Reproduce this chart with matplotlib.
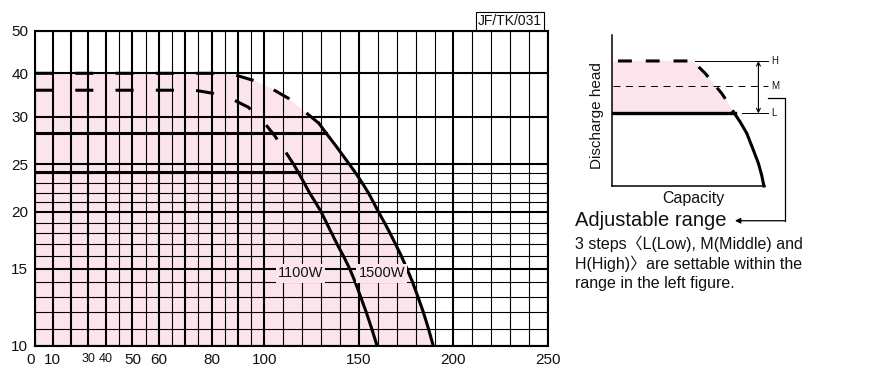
import numpy as np
import matplotlib
matplotlib.use('Agg')
import matplotlib.pyplot as plt
from matplotlib.transforms import ScaledTranslation

plt.rcParams['font.family'] = ['Liberation Sans', 'Noto Sans CJK JP']
plt.rcParams['lines.scale_dashes'] = False

PINK = '#fce4ec'
INK = '#111111'

# --- grid / ticks of the main chart ---
x_major = [0, 10, 20, 30, 40, 50, 60, 70, 80, 90, 100, 150, 200, 250]
x_labels = ['0', '10', '', '30', '40', '50', '60', '', '80', '', '100', '150', '200', '250']
x_minor = [45, 55, 65, 75, 85, 95, 110, 120, 130, 140, 160, 170, 180, 190,
           210, 220, 230, 240]
y_major = [10, 15, 20, 25, 30, 40, 50]
y_minor = [11, 12, 13, 14, 16, 17, 18, 19, 21, 22, 23, 24]

# --- pump curves (capacity, head) ---
# 1500W: dashed upper part (H setting) and solid part
h1500_q = [0, 81.8, 89.1, 96.2, 102.5, 112.9, 120.5, 128.9]
h1500_h = [40, 40, 39.6, 38.3, 36.8, 34.2, 31.5, 29.3]
c1500_q = [128.9, 132.6, 137.6, 145.0, 148.4, 151.7, 155.0, 157.7, 160.3, 163.5,
           166.5, 169.4, 172.5, 175.5, 178.4, 181.2, 184.1, 186.8, 189.3]
c1500_h = [29.3, 28.3, 27, 25, 24, 23, 22, 21, 20, 19, 18, 17, 16, 15, 14, 13, 12, 11, 10]
# 1100W
m1100_q = [0, 73.6, 80.4, 87.6, 93.9, 99.6, 105.5, 111.9]
m1100_h = [36.1, 36.1, 35.4, 34.1, 32.2, 29.5, 28.0, 26.1]
c1100_q = [111.9, 115.5, 118.2, 121.0, 123.9, 127.0, 130.0, 132.8, 135.6, 138.5,
           141.9, 145.2, 148.1, 150.9, 153.9, 156.8, 159.6]
c1100_h = [26.1, 25, 24, 23, 22, 21, 20, 19, 18, 17, 16, 15, 14, 13, 12, 11, 10]
# L settings (head, end capacity)
low1500 = (28.3, 132.6)
low1100 = (24.1, 118.2)

# --- schematic on the right (relative capacity / head) ---
sk_H, sk_M, sk_L = 0.828, 0.662, 0.481
sk_dash_q = [0.041, 0.532, 0.543, 0.609, 0.663, 0.717, 0.761, 0.793]
sk_dash_h = [sk_H, sk_H, 0.813, 0.747, 0.680, 0.614, 0.548, 0.492]
sk_solid_q = [0.793, 0.837, 0.881, 0.924, 0.957, 0.978, 0.993]
sk_solid_h = [0.492, 0.426, 0.349, 0.238, 0.150, 0.073, 0.0]

# piecewise scales of the printed chart paper
X_NODES = [0, 40, 100, 250]
X_POS = [0, 71, 229.3, 513]
Y_NODES = [10, 11, 12, 13, 14, 15, 16, 17, 18, 19, 20, 21, 22, 23, 24, 25, 30, 40, 50]
Y_POS = [0, 17, 33.5, 49, 63.5, 76.7, 89.5, 101.5, 112.5, 123.2, 134,
         143.5, 153, 163, 172.5, 181.4, 229, 272.4, 314.7]


def fx(v):
    return np.interp(v, X_NODES, X_POS)


def ifx(p):
    return np.interp(p, X_POS, X_NODES)


def fy(v):
    return np.interp(v, Y_NODES, Y_POS)


def ify(p):
    return np.interp(p, Y_POS, Y_NODES)


W, H = 874, 387
fig = plt.figure(figsize=(W / 100, H / 100), dpi=100)

ax = fig.add_axes([35 / W, (H - 345.7) / H, (548 - 35) / W, (345.7 - 31) / H])
ax.set_xscale('function', functions=(fx, ifx))
ax.set_yscale('function', functions=(fy, ify))
ax.set_xlim(0, 250)
ax.set_ylim(10, 50)

ax.set_xticks(x_major)
ax.set_xticklabels(x_labels)
ax.set_xticks(x_minor, minor=True)
ax.set_yticks(y_major)
ax.set_yticklabels([str(v) for v in y_major])
ax.set_yticks(y_minor, minor=True)
ax.tick_params(which='both', length=0)
ax.tick_params(axis='x', pad=5.5, labelsize=11, labelcolor=INK)
ax.tick_params(axis='y', pad=4.8, labelsize=11, labelcolor=INK)
for t in ax.get_xticklabels():
    if t.get_text() in ('30', '40'):
        t.set_fontsize(9)
    if t.get_text() == '0':
        t.set_transform(t.get_transform() + ScaledTranslation(-3 / 72, 0, fig.dpi_scale_trans))

ax.set_axisbelow(True)
ax.grid(which='major', color='k', lw=1.5)
ax.grid(which='minor', color='k', lw=0.8)
for s in ax.spines.values():
    s.set_linewidth(1.5)

# pink adjustable range
ax.fill(h1500_q + c1500_q[1:] + [0], h1500_h + c1500_h[1:] + [10],
        color=PINK, lw=0, zorder=0.2)

dash = (0, (13, 16))
ax.plot(h1500_q, h1500_h, color='k', lw=2.2, linestyle=dash, dash_capstyle='butt', zorder=3)
ax.plot(c1500_q, c1500_h, color='k', lw=2.2, zorder=3)
ax.plot(m1100_q, m1100_h, color='k', lw=2.2, linestyle=dash, dash_capstyle='butt', zorder=3)
ax.plot(c1100_q, c1100_h, color='k', lw=2.2, zorder=3)
ax.plot([0, low1500[1]], [low1500[0], low1500[0]], color='k', lw=2.2, zorder=3)
ax.plot([0, low1100[1]], [low1100[0], low1100[0]], color='k', lw=2.2, zorder=3)

lab_box = dict(boxstyle='square,pad=0.15', fc=PINK, ec='none')
ax.text(107.1, 14.66, '1100W', fontsize=10.5, ha='left', va='center', color=INK,
        bbox=lab_box, zorder=4)
ax.text(149.8, 14.66, '1500W', fontsize=10.5, ha='left', va='center', color=INK,
        bbox=lab_box, zorder=4)

fig.text(510 / W, 1 - 21 / H, 'JF/TK/031', fontsize=10, ha='center', va='center',
         color=INK, bbox=dict(boxstyle='square,pad=0.15', fc='white', ec='k', lw=0.8))

# schematic
ax2 = fig.add_axes([611.7 / W, (H - 186) / H, 153.3 / W, 151 / H])
ax2.set_xlim(0, 1)
ax2.set_ylim(0, 1)
ax2.set_xticks([])
ax2.set_yticks([])
for side in ('top', 'right'):
    ax2.spines[side].set_visible(False)
for side in ('left', 'bottom'):
    ax2.spines[side].set_linewidth(1.1)
ax2.patch.set_alpha(0)

ax2.fill([0] + sk_dash_q + [0], [sk_H] + sk_dash_h + [sk_L], color=PINK, lw=0, zorder=1)
ax2.plot(sk_dash_q, sk_dash_h, color='k', lw=2.2, linestyle=(0, (10, 10)),
         dash_capstyle='butt', zorder=3)
ax2.plot(sk_solid_q, sk_solid_h, color='k', lw=2.2, zorder=3, clip_on=False)
ax2.plot([0, sk_solid_q[0] + 0.01], [sk_L, sk_L], color='k', lw=2.4, zorder=3)

ax2.plot([0.543, 1.021], [sk_H, sk_H], color='k', lw=0.7, clip_on=False)
ax2.plot([0.01, 1.021], [sk_M, sk_M], color='k', lw=0.7, linestyle=(0, (5, 4)), clip_on=False)
ax2.plot([0.848, 1.021], [sk_L, sk_L], color='k', lw=0.7, clip_on=False)
for lvl, name in ((sk_H, 'H'), (sk_M, 'M'), (sk_L, 'L')):
    ax2.text(1.044, lvl, name, fontsize=7, ha='left', va='center', color=INK, clip_on=False)

ax2.annotate('', xy=(0.957, sk_H), xytext=(0.957, sk_L),
             arrowprops=dict(arrowstyle='<->', lw=0.8, color='k', mutation_scale=7,
                             shrinkA=0, shrinkB=0), annotation_clip=False)
ax2.plot([1.021, 1.13, 1.13], [0.585, 0.585, -0.230], color='k', lw=0.9, clip_on=False)
ax2.annotate('', xy=(0.804, -0.230), xytext=(1.13, -0.230),
             arrowprops=dict(arrowstyle='-|>', lw=0.9, color='k', mutation_scale=8,
                             shrinkA=0, shrinkB=0), annotation_clip=False)

ax2.text(-0.098, 0.464, 'Discharge head', rotation=90, fontsize=11, ha='center',
         va='center', color=INK, clip_on=False)
ax2.text(0.532, -0.082, 'Capacity', fontsize=11.5, ha='center', va='center',
         color=INK, clip_on=False)

fig.text(575 / W, 1 - 220 / H, 'Adjustable range', fontsize=14.5, ha='left',
         va='center', color=INK)
desc = ['3 steps〈L(Low), M(Middle) and',
        'H(High)〉are settable within the',
        'range in the left figure.']
for i, line in enumerate(desc):
    fig.text(575 / W, 1 - (243.3 + 20 * i) / H, line, fontsize=11.5, ha='left',
             va='center', color=INK)

fig.savefig('out.png', dpi=100)
